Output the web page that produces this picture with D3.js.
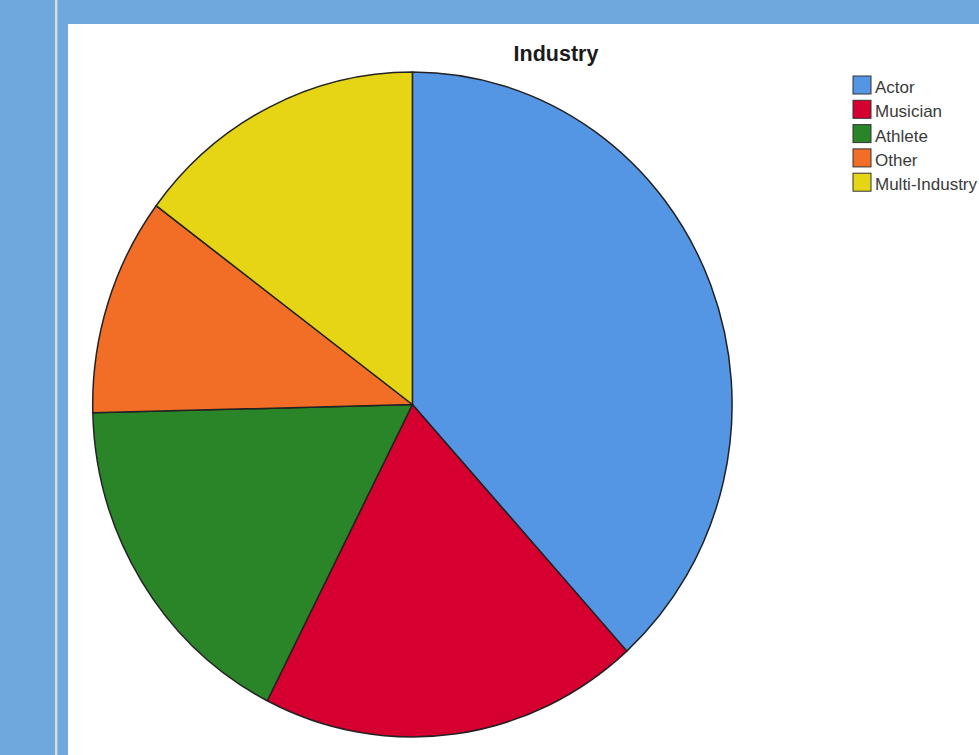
<!DOCTYPE html>
<html>
<head>
<meta charset="utf-8">
<script src="https://cdn.jsdelivr.net/npm/d3@7"></script>
<style>
  body { margin: 0; background: #6fa8dc; }
  svg { display: block; }
</style>
</head>
<body>
<svg id="chart" width="979" height="755"></svg>
<script>
// data (percent of the pie)
let categories = ["Actor", "Musician", "Athlete", "Other", "Multi-Industry"];
let shares = [38.3, 19.2, 17.1, 10.6, 14.8];
let colors = ["#5596e4", "#d5002f", "#2a8529", "#f26e26", "#e5d515"];
let title = "Industry";

let svg = d3.select("#chart");

// page frame
svg.append("rect").attr("width", 979).attr("height", 755).attr("fill", "#6fa8dc");
svg.append("rect").attr("x", 55).attr("y", 0).attr("width", 2.4).attr("height", 755).attr("fill", "#dcdcdc");
svg.append("rect").attr("x", 68).attr("y", 24).attr("width", 979 - 68).attr("height", 755 - 24).attr("fill", "#fff");

// title
svg.append("text")
	.attr("x", 556).attr("y", 61)
	.attr("text-anchor", "middle")
	.style("font-family", "Liberation Sans, Arial, sans-serif")
	.style("font-weight", "bold")
	.style("font-size", "21.5px")
	.attr("fill", "#1a1a1a")
	.text(title);

// pie (slightly taller than wide, like the original)
let cx = 412.4, cy = 404.5;
let rx = 319.7, ry = 332.5;

let table = categories.map((c, i) => ({ name: c, value: shares[i], color: colors[i] }));
let pie = d3.pie().value(d => d.value).sort(null);
let arc = d3.arc().innerRadius(0).outerRadius(ry);

let g = svg.append("g")
	.attr("transform", "translate(" + cx + "," + cy + ") scale(" + (rx / ry) + ",1)");

g.selectAll(".slice")
	.data(pie(table))
	.enter().append("path")
	.attr("class", "slice")
	.attr("d", arc)
	.attr("fill", d => d.data.color)
	.attr("stroke", "#222")
	.attr("stroke-width", 1.5)
	.attr("stroke-linejoin", "round")
	.attr("vector-effect", "non-scaling-stroke");

// legend
let legend = svg.append("g").attr("transform", "translate(853,76)");
let item = legend.selectAll(".item")
	.data(table)
	.enter().append("g")
	.attr("class", "item")
	.attr("transform", (d, i) => "translate(0," + (i * 24.3) + ")");

item.append("rect")
	.attr("width", 18).attr("height", 18)
	.attr("fill", d => d.color)
	.attr("stroke", "#333")
	.attr("stroke-width", 1);

item.append("text")
	.attr("x", 22).attr("y", 17)
	.style("font-family", "Liberation Sans, Arial, sans-serif")
	.style("font-size", "17px")
	.attr("fill", "#3a3a3a")
	.text(d => d.name);
</script>
</body>
</html>
